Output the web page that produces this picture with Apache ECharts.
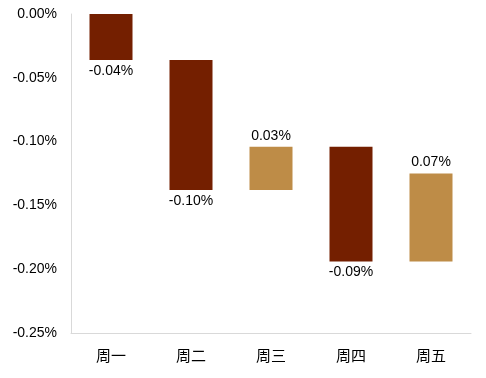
<!DOCTYPE html>
<html>
<head>
<meta charset="utf-8">
<script src="https://cdn.jsdelivr.net/npm/echarts@6/dist/echarts.min.js"></script>
<style>
  html, body { margin: 0; padding: 0; background: #fff; }
  #chart { width: 486px; height: 378px; }
</style>
</head>
<body>
<div id="chart"></div>
<script>
const days = ['周一', '周二', '周三', '周四', '周五'];
// 每日变动 (%)
const changes = [-0.036, -0.102, 0.034, -0.090, 0.069];
const yTicks = [-0.25, -0.2, -0.15, -0.1, -0.05, 0];

const DOWN = '#741F00';
const UP = '#BE8C47';

// 瀑布图：计算每根柱子的上沿和下沿
let run = 0;
const base = [];
const body = [];
changes.forEach((v) => {
  const start = run;
  const end = run + v;
  const top = Math.max(start, end);
  const bottom = Math.min(start, end);
  base.push(top);
  body.push({
    value: bottom - top,
    delta: v,
    itemStyle: { color: v < 0 ? DOWN : UP },
    label: { position: v < 0 ? 'bottom' : 'top' },
  });
  run = end;
});

const chart = echarts.init(document.getElementById('chart'));
const font = 'Liberation Sans, Arial, sans-serif';

chart.setOption({
  backgroundColor: '#ffffff',
  animation: false,
  grid: { left: 71, right: 15, top: 14, bottom: 45 },
  xAxis: {
    type: 'category',
    data: days,
    axisLine: { onZero: false, lineStyle: { color: '#D9D9D9', width: 1 } },
    axisTick: { show: false },
    axisLabel: { color: '#000', fontSize: 15, fontFamily: 'Noto Sans CJK SC, sans-serif', margin: 15 },
  },
  yAxis: {
    type: 'value',
    min: yTicks[0],
    max: yTicks[yTicks.length - 1],
    interval: 0.05,
    splitLine: { show: false },
    axisTick: { show: false },
    axisLine: { show: true, lineStyle: { color: '#D9D9D9', width: 1 } },
    axisLabel: {
      color: '#000',
      fontSize: 14,
      fontFamily: font,
      margin: 14,
      formatter: (v) => v.toFixed(2) + '%',
    },
  },
  series: [
    {
      type: 'bar',
      stack: 'wf',
      barWidth: 43,
      data: base,
      itemStyle: { color: 'transparent' },
      silent: true,
    },
    {
      type: 'bar',
      stack: 'wf',
      barWidth: 43,
      data: body,
      label: {
        show: true,
        distance: 4,
        color: '#000',
        fontSize: 14,
        fontFamily: font,
        formatter: (p) => p.data.delta.toFixed(2) + '%',
      },
    },
  ],
});
</script>
</body>
</html>
